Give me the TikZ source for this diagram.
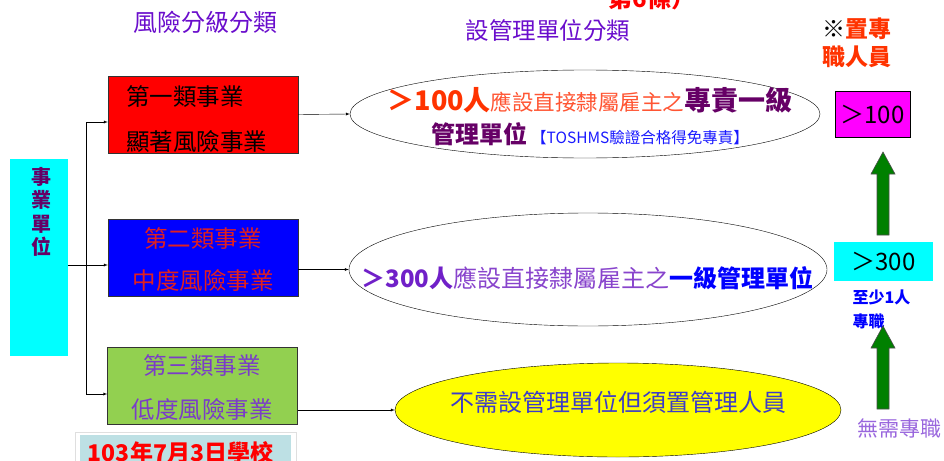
\documentclass[tikz,border=0pt]{standalone}
\usepackage{fontspec}
\setmainfont{Noto Sans CJK TC}
\usetikzlibrary{shapes.geometric}

\definecolor{hdpurple}{HTML}{6A0DCC}
\definecolor{unitpurple}{HTML}{660066}
\definecolor{orred}{HTML}{FF3300}
\definecolor{orlight}{HTML}{FF5533}
\definecolor{dkpurple}{HTML}{660066}
\definecolor{tosblue}{HTML}{1A1AFF}
\definecolor{ppurple}{HTML}{7020C8}
\definecolor{plight}{HTML}{8844CC}
\definecolor{txtred}{HTML}{E02020}
\definecolor{txtpurple}{HTML}{7A3CC8}
\definecolor{ylwtext}{HTML}{3C3CC8}
\definecolor{nopurple}{HTML}{9966DD}
\definecolor{arrgreen}{HTML}{008000}
\definecolor{datebg}{HTML}{BDE0E4}
\definecolor{boxgreen}{HTML}{92D050}
\definecolor{aqua}{HTML}{00FFFF}
\definecolor{pink}{HTML}{FF00FF}
\definecolor{lemon}{HTML}{FFFF00}
\definecolor{pure}{HTML}{FF0000}
\definecolor{deepblue}{HTML}{0000FF}

\newcommand{\setfs}[2]{\fontsize{#1}{#2}\selectfont}

\tikzset{
	catbox/.style = {draw = black!80, minimum width = 190pt, minimum height = 77pt, inner sep = 0pt},
	ring/.style = {draw, ellipse, inner sep = 0pt},
	link/.style = {->, thin},
	txt/.style = {inner sep = 0pt},
}

\begin{document}
\begin{tikzpicture}[x = 1pt, y = -1pt, >=latex]
		\useasboundingbox (0, 0) rectangle (944, 460);
		\clip (0, 0) rectangle (944, 460);
		%%%%%%%%%%%%%
		\node[txt] (law) at (652, -2) {\setfs{24}{24}\bfseries\color{pure}第6條）};
		\node[txt] (hdrisk) at (205, 22) {\setfs{24}{24}\color{hdpurple}風險分級分類};
		\node[txt] (hdunit) at (548, 31) {\setfs{23.5}{24}\color{hdpurple}設管理單位分類};
		\node[txt, align = left, font = \setfs{23}{28}\bfseries, text = orred] (hdstaff) at (857, 43) {{\color{black}※}置專\\職人員};
		%%%%%%%%%%%%%
		\node[fill = aqua, minimum width = 58pt, minimum height = 197pt, inner sep = 0pt] (unit) at (39, 257.5) {};
		\node[txt, align = center, font = \setfs{20}{23.5}\bfseries, text = unitpurple] (unittxt) at (41, 212) {事\\業\\單\\位};
		%%%%%%%%%%%%%
		\node[catbox, fill = pure] (cat1) at (203, 114.5) {};
		\node[catbox, fill = deepblue] (cat2) at (203, 258) {};
		\node[catbox, fill = boxgreen] (cat3) at (202.5, 386) {};
		\node[txt, align = left, font = \setfs{23.5}{45}] (cat1txt) at (196.5, 119.5) {第一類事業\\顯著風險事業};
		\node[txt, align = center, font = \setfs{23.5}{42}, text = txtred] (cat2txt) at (203, 260) {第二類事業\\中度風險事業};
		\node[txt, align = center, font = \setfs{23.5}{44}, text = txtpurple] (cat3txt) at (202, 388) {第三類事業\\低度風險事業};
		%%%%%%%%%%%%%
		\node[ring, minimum width = 470pt, minimum height = 88pt] (ell1) at (585, 114) {};
		\node[ring, minimum width = 478pt, minimum height = 113pt] (ell2) at (588, 269.5) {};
		\node[ring, fill = lemon, minimum width = 446pt, minimum height = 94pt] (ell3) at (618, 410) {};
		\node[txt, align = center, font = \setfs{24}{33}] (ell1txt) at (590, 116.5) {%
			{\bfseries\setfs{27}{33}\color{orred}＞100人}{\setfs{21.5}{33}\color{orlight}應設直接隸屬雇主之}{\bfseries\setfs{27}{33}\color{dkpurple}專責一級}\\
			{\bfseries\color{dkpurple}管理單位}\,{\setfs{15.5}{33}\color{tosblue}【TOSHMS驗證合格得免專責】}};
		\node[txt, font = \setfs{24}{24}] (ell2txt) at (587.5, 278) {%
			{\bfseries\color{ppurple}＞300人}{\color{plight}應設直接隸屬雇主之}{\bfseries\color{deepblue}一級管理單位}};
		\node[txt, font = \setfs{24}{24}, text = ylwtext] (ell3txt) at (618, 402) {不需設管理單位但須置管理人員};
		%%%%%%%%%%%%%
		\node[draw, fill = pink, minimum width = 75pt, minimum height = 46pt, inner sep = 0pt, font = \setfs{24}{24}] (n100) at (872.5, 114) {＞100};
		\node[fill = aqua, minimum width = 99pt, minimum height = 39pt, inner sep = 0pt, font = \setfs{24}{24}] (n300) at (883.5, 261.5) {＞300};
		\node[txt, align = left, font = \setfs{16}{24}\bfseries, text = deepblue] (least) at (881.5, 309) {至少1人\\專職};
		\node[txt, font = \setfs{21}{21}, text = nopurple] (nofull) at (899.5, 428) {無需專職};
		\foreach \b/\t in {235/152, 409/326}
			\filldraw[fill = arrgreen, draw = black!70, line width = 0.6pt]
				(877, \b) -- (877, \t + 22) -- (871, \t + 22) -- (883, \t) -- (895, \t + 22) -- (889, \t + 22) -- (889, \b) -- cycle;
		%%%%%%%%%%%%%
		\node[fill = white, draw = gray!25, minimum width = 221pt, minimum height = 48pt, inner sep = 0pt] (dateframe) at (185.5, 456) {};
		\node[fill = datebg, minimum width = 211pt, minimum height = 40pt, inner sep = 0pt] (date) at (185.5, 455) {};
		\node[txt, font = \setfs{23}{23}\bfseries, text = pure] (datetxt) at (180.5, 453) {103年7月3日學校};
		%%%%%%%%%%%%%
		\coordinate (bus) at (86, 265);
		\coordinate (bustop) at (86, 122);
		\coordinate (busbot) at (86, 394);
		\draw (bustop) to (busbot);
		\draw[link] (unit.east |- bus) to (bus -| cat2.west);
		\draw[link] (bustop) to (bustop -| cat1.west);
		\draw[link] (busbot) to (busbot -| cat3.west);
		\draw[link] (cat1.east) to (ell1.west);
		\draw[link] (cat2.east |- ell2.west) to (ell2.west);
		\draw[link] (cat3.east |- ell3.west) to (ell3.west);
\end{tikzpicture}
\end{document}
